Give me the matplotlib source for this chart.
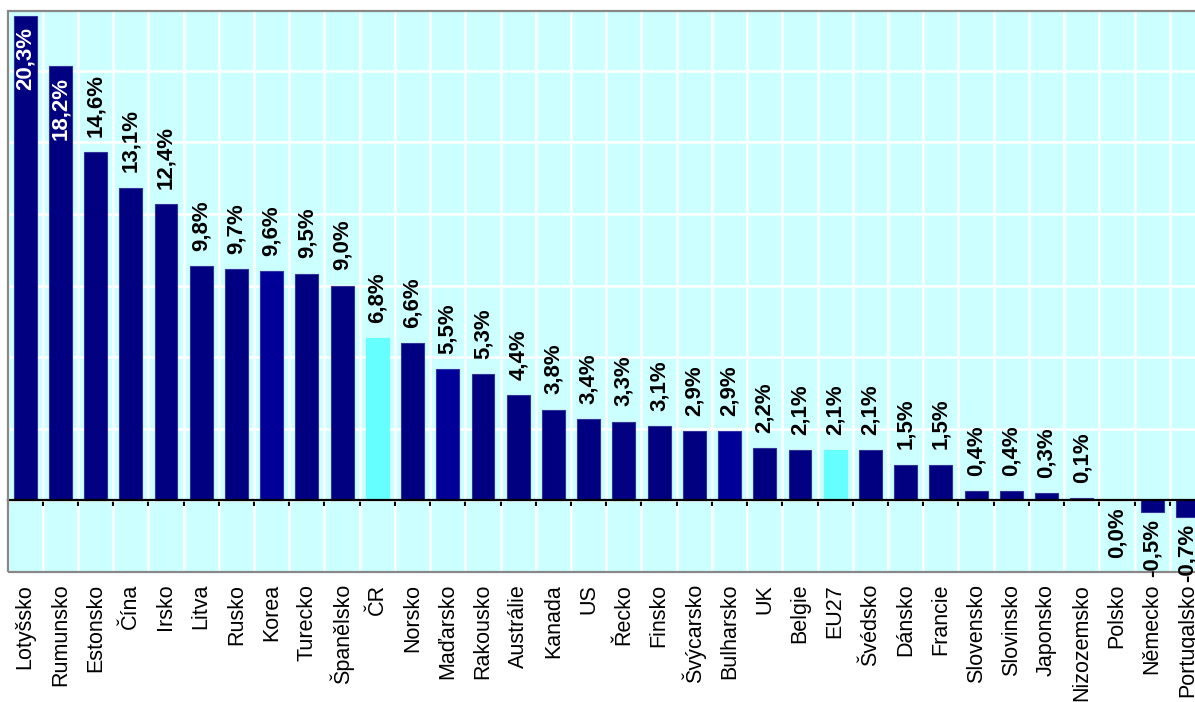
import numpy as np
import matplotlib
matplotlib.use('Agg')
import matplotlib.pyplot as plt
from matplotlib.patches import Rectangle

plt.rcParams['font.family'] = ['Liberation Sans', 'DejaVu Sans']

# year-on-year change by country, sorted descending
countries = ['Lotyšsko', 'Rumunsko', 'Estonsko', 'Čína', 'Irsko', 'Litva',
             'Rusko', 'Korea', 'Turecko', 'Španělsko', 'ČR', 'Norsko',
             'Maďarsko', 'Rakousko', 'Austrálie', 'Kanada', 'US', 'Řecko',
             'Finsko', 'Švýcarsko', 'Bulharsko', 'UK', 'Belgie', 'EU27',
             'Švédsko', 'Dánsko', 'Francie', 'Slovensko', 'Slovinsko',
             'Japonsko', 'Nizozemsko', 'Polsko', 'Německo', 'Portugalsko']
values = [20.3, 18.2, 14.6, 13.1, 12.4, 9.8,
          9.7, 9.6, 9.5, 9.0, 6.8, 6.6,
          5.5, 5.3, 4.4, 3.8, 3.4, 3.3,
          3.1, 2.9, 2.9, 2.2, 2.1, 2.1,
          2.1, 1.5, 1.5, 0.4, 0.4,
          0.3, 0.1, 0.0, -0.5, -0.7]
highlight = ['ČR', 'EU27']
bright = ['Korea', 'Maďarsko', 'Bulharsko']

NAVY = '#000080'
BLUE = '#000099'
CYAN = '#66FFFF'
BG = '#CCFFFF'

fig = plt.figure(figsize=(11.95, 7.02), dpi=100)
ax = fig.add_axes([7.5 / 1195, 130 / 702, 1197.5 / 1195, 561 / 702])
ax.set_facecolor(BG)

x = np.arange(len(countries))
colors = []
edges = []
for c in countries:
    if c in highlight:
        colors.append(CYAN)
        edges.append(CYAN)
    elif c in bright:
        colors.append(BLUE)
        edges.append('#3333AA')
    else:
        colors.append(NAVY)
        edges.append('#333399')

ax.bar(x, values, width=0.65, color=colors, edgecolor=edges, linewidth=0.8,
       zorder=2)

ax.set_xlim(-0.5, len(countries) - 0.5)
ax.set_ylim(-3, 20.5)

# white grid, category boundaries as x ticks
ax.set_xticks(np.arange(-0.5, len(countries), 1))
ax.set_yticks(np.arange(-3, 21, 3))
ax.set_xticklabels([])
ax.set_yticklabels([])
ax.grid(True, color='white', linewidth=1.8)
ax.set_axisbelow(True)
ax.tick_params(axis='y', length=0)
ax.tick_params(axis='x', direction='out', length=4, width=1.5, color='black')

ax.spines['bottom'].set_position(('data', 0))
ax.spines['bottom'].set_color('black')
ax.spines['bottom'].set_linewidth(1.6)
ax.spines['bottom'].set_zorder(3)
for side in ['left', 'top', 'right']:
    ax.spines[side].set_visible(False)
ax.add_patch(Rectangle((0, 0), 1, 1, transform=ax.transAxes, fill=False,
                       edgecolor='#888888', linewidth=1.6, clip_on=False,
                       zorder=4))

# value labels
for i, v in enumerate(values):
    label = ('%.1f' % v).replace('.', ',') + '%'
    if v > 16:
        ax.annotate(label, xy=(i, v), xytext=(0, -8), textcoords='offset points',
                    rotation=90, ha='center', va='top', color='white',
                    fontsize=16, fontweight='bold', zorder=5)
    elif v > 0:
        ax.annotate(label, xy=(i, v), xytext=(0, 11), textcoords='offset points',
                    rotation=90, ha='center', va='bottom', color='black',
                    fontsize=16, fontweight='bold', zorder=5)
    else:
        ax.annotate(label, xy=(i, v), xytext=(0, -5), textcoords='offset points',
                    rotation=90, ha='center', va='top', color='black',
                    fontsize=16, fontweight='bold', zorder=5)

# category names under the plot area
for i, c in enumerate(countries):
    ax.annotate(c, xy=(i, 0), xycoords=('data', 'axes fraction'),
                xytext=(0, -8.5), textcoords='offset points', rotation=90,
                ha='center', va='top', fontsize=15.5, color='black',
                annotation_clip=False)

fig.savefig('out.png', dpi=100, facecolor='white')
